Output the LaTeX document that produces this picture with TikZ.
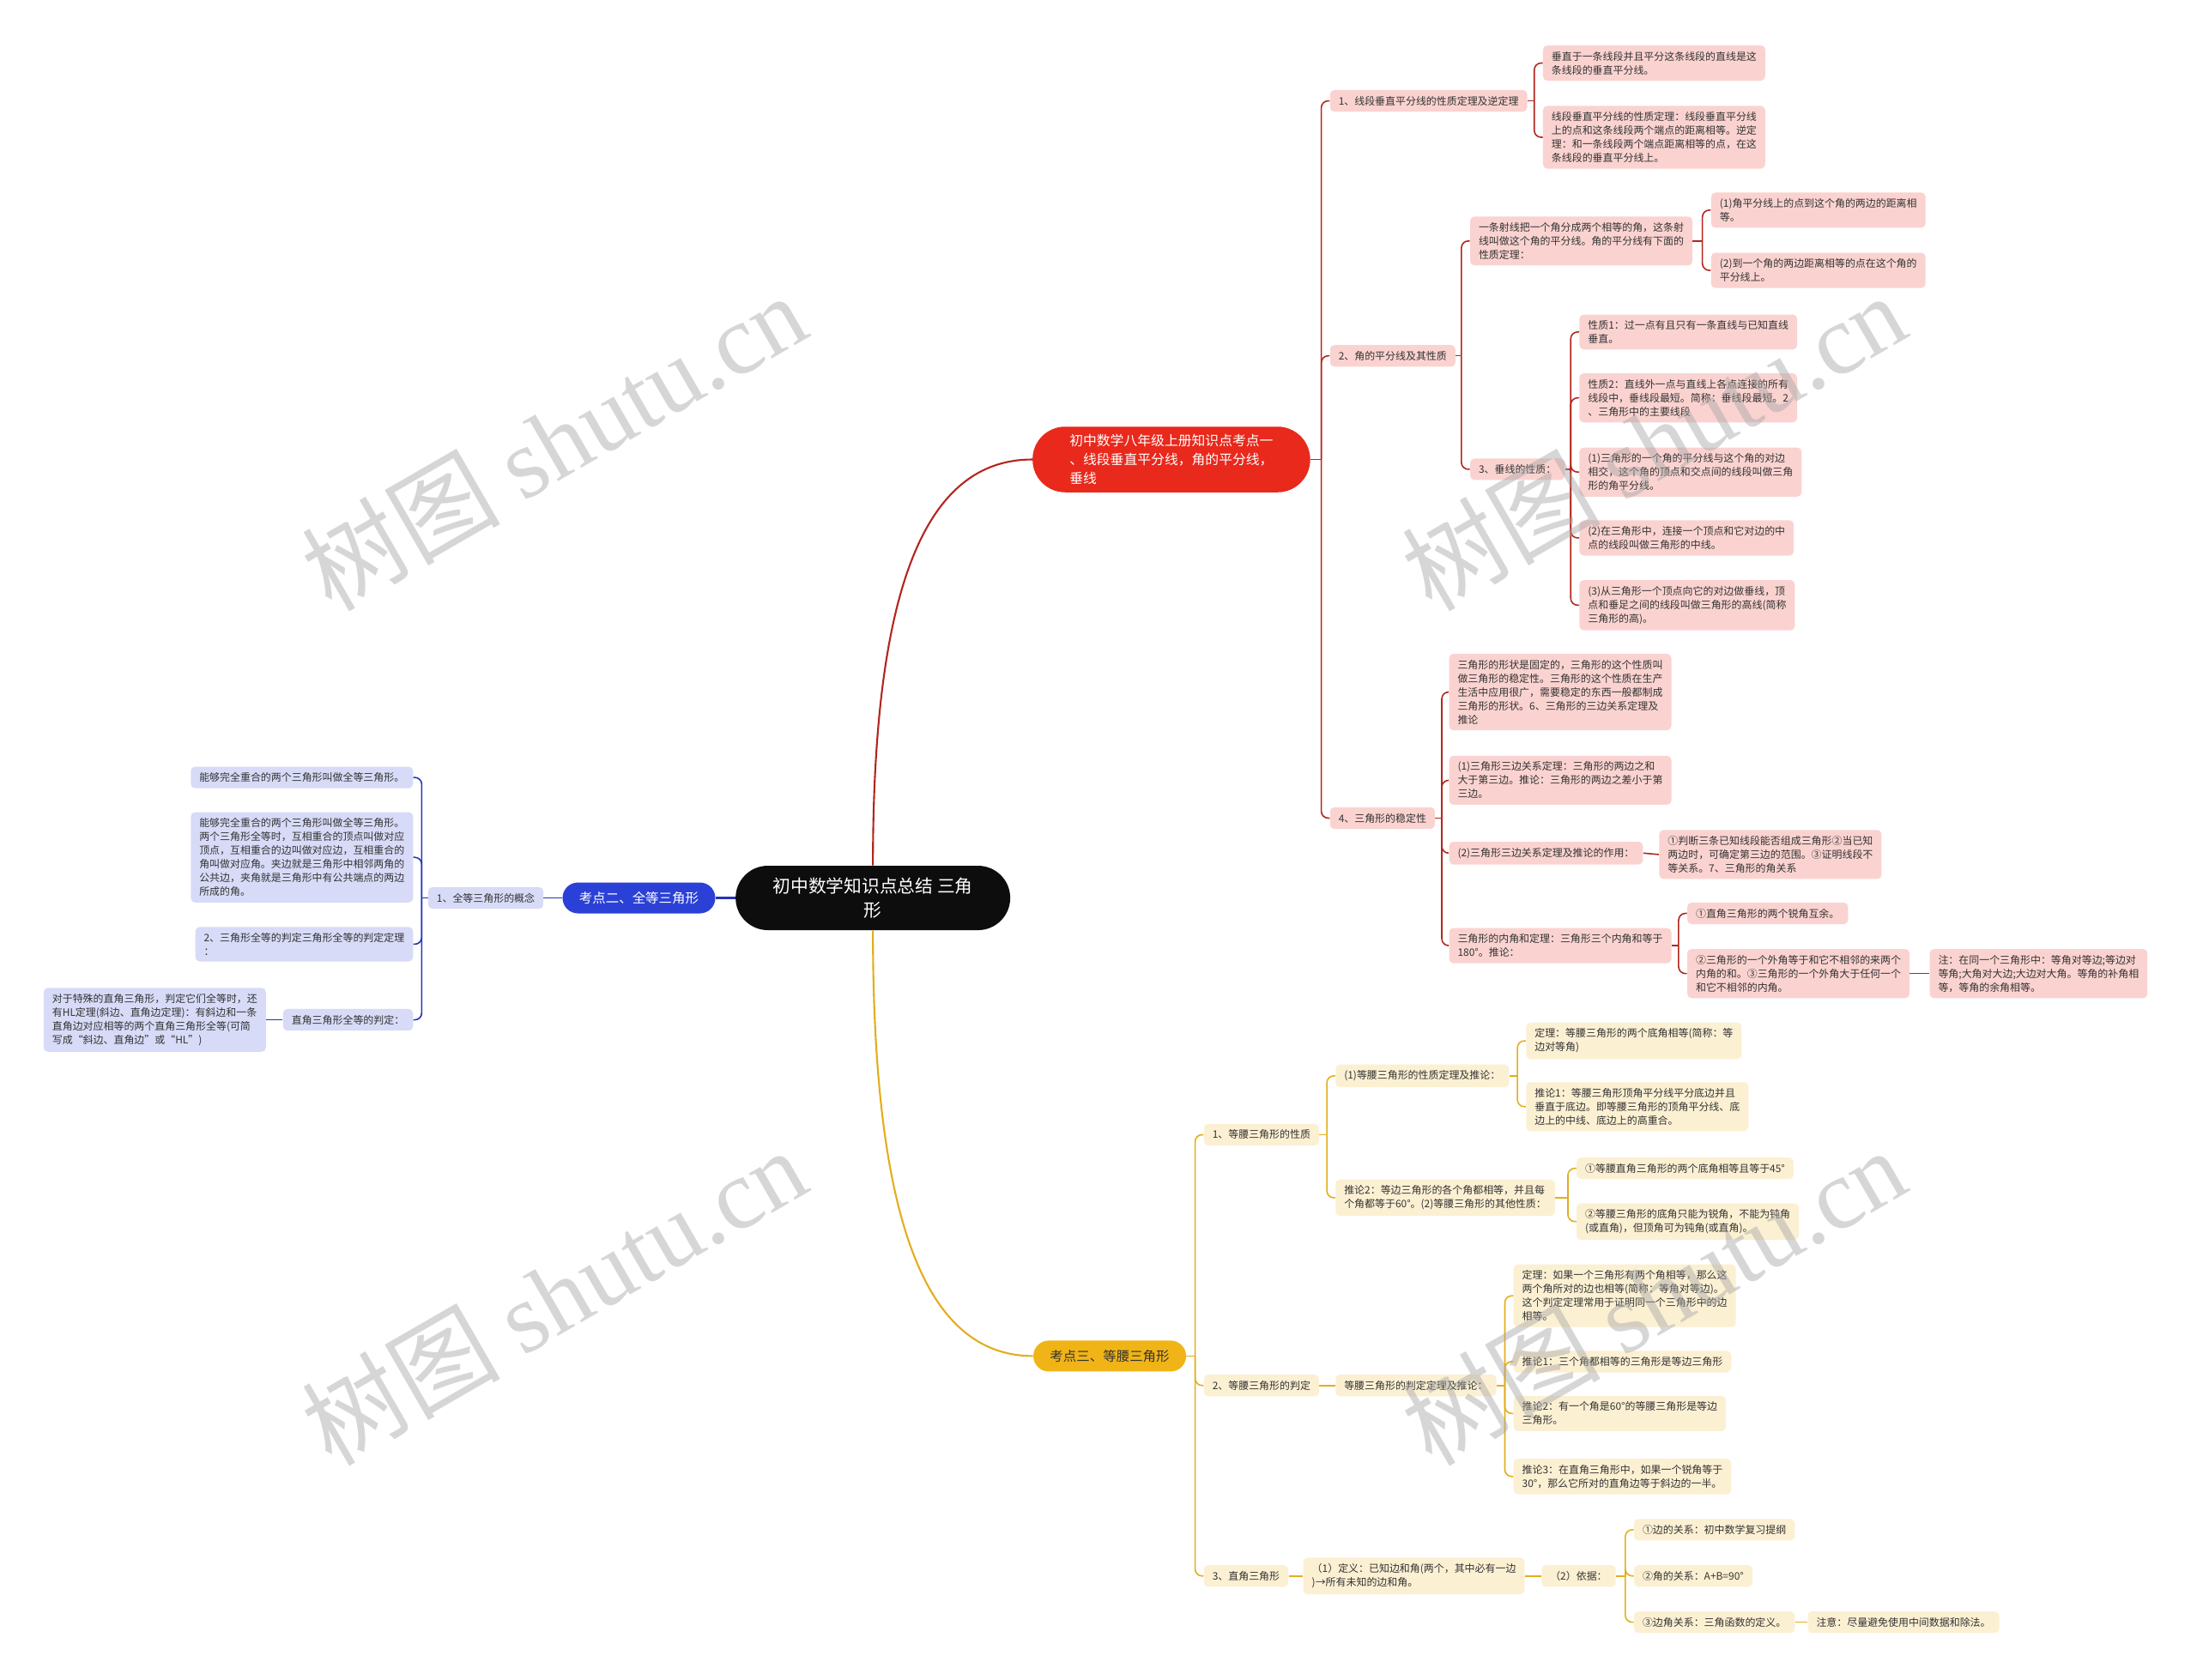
\documentclass[tikz,border=0pt]{standalone}
\usepackage{fontspec}
\setmainfont{Noto Sans CJK SC}
\newfontfamily\wmlatin{Liberation Serif}
\usepackage{xcolor}
\usetikzlibrary{positioning,calc}
\definecolor{rootblk}{HTML}{0D0D0D}
\definecolor{redmain}{HTML}{E8291C}
\definecolor{redline}{HTML}{B3261E}
\definecolor{redleaf}{HTML}{FAD3D0}
\definecolor{bluemain}{HTML}{2B40D6}
\definecolor{blueline}{HTML}{2634B5}
\definecolor{blueleaf}{HTML}{D7DBF7}
\definecolor{yelmain}{HTML}{F1B416}
\definecolor{yelline}{HTML}{E2AE1C}
\definecolor{yelleaf}{HTML}{FCF0D3}
\definecolor{leaftext}{HTML}{333333}
\newcommand{\leaffont}{\fontsize{6.8}{9.1}\selectfont}
\tikzset{
  leaf/.style={fill=#1, rounded corners=0.1cm, inner xsep=0.2cm, inner ysep=0.14cm,
    align=left, font=\leaffont, text=leaftext},
  leaf/.default=redleaf,
  topic/.style={fill=#1, rounded corners=0.36cm, minimum width=3.56cm, minimum height=0.72cm,
    font=\fontsize{8.8}{11}\selectfont},
  wire/.style={line width=0.9pt, rounded corners=0.16cm},
  trunk/.style={line width=1.2pt},
  wmark/.style={rotate=30, text=black!35, text opacity=0.45, font=\fontsize{66}{68}\selectfont},
}

\begin{document}
\begin{tikzpicture}[x=0.03266cm, y=-0.03266cm]
\useasboundingbox (0,0) rectangle (1568,1199);
\fill[white] (0,0) rectangle (1568,1199);

% ---- root and main topics ----
\node[fill=rootblk, text=white, rounded corners=0.75cm, minimum width=6.4cm, minimum height=1.5cm,
  align=center, font=\fontsize{11.8}{15.8}\selectfont] (root) at (623,641) {初中数学知识点总结 三角\\形};
\node[fill=redmain, text=white, rounded corners=0.76cm, minimum width=6.47cm, minimum height=1.53cm,
  align=left, font=\fontsize{9}{12.6}\selectfont] (rm) at (836,328)
  {初中数学八年级上册知识点考点一\\、线段垂直平分线，角的平分线，\\垂线};
\node[topic=bluemain, text=white] (bl) at (456,641) {考点二、全等三角形};
\node[topic=yelmain, text=leaftext] (yl) at (792,968) {考点三、等腰三角形};

\draw[trunk,redline] (root.north) .. controls (623,420) and (660,328) .. (rm.west);
\draw[trunk,yelline] (root.south) .. controls (623,870) and (660,968) .. (yl.west);
\draw[trunk,blueline] (root.west) -- (bl.east);

% ---- red branch ----
\node[leaf, anchor=west] (ra) at (949,72) {1、线段垂直平分线的性质定理及逆定理};
\node[leaf, anchor=west] (raa) at (1101,45) {垂直于一条线段并且平分这条线段的直线是这\\条线段的垂直平分线。};
\node[leaf, anchor=west] (rab) at (1101,98) {线段垂直平分线的性质定理：线段垂直平分线\\上的点和这条线段两个端点的距离相等。逆定\\理：和一条线段两个端点距离相等的点，在这\\条线段的垂直平分线上。};
\node[leaf, anchor=west] (rb) at (949,254) {2、角的平分线及其性质};
\node[leaf, anchor=west] (rba) at (1049,172) {一条射线把一个角分成两个相等的角，这条射\\线叫做这个角的平分线。角的平分线有下面的\\性质定理：};
\node[leaf, anchor=west] (rbaa) at (1221,150) {(1)角平分线上的点到这个角的两边的距离相\\等。};
\node[leaf, anchor=west] (rbab) at (1221,193) {(2)到一个角的两边距离相等的点在这个角的\\平分线上。};
\node[leaf, anchor=west] (rbb) at (1049,335) {3、垂线的性质：};
\node[leaf, anchor=west] (rbb1) at (1127,237) {性质1：过一点有且只有一条直线与已知直线\\垂直。};
\node[leaf, anchor=west] (rbb2) at (1127,284) {性质2：直线外一点与直线上各点连接的所有\\线段中，垂线段最短。简称：垂线段最短。2\\、三角形中的主要线段};
\node[leaf, anchor=west] (rbb3) at (1127,337) {(1)三角形的一个角的平分线与这个角的对边\\相交，这个角的顶点和交点间的线段叫做三角\\形的角平分线。};
\node[leaf, anchor=west] (rbb4) at (1127,384) {(2)在三角形中，连接一个顶点和它对边的中\\点的线段叫做三角形的中线。};
\node[leaf, anchor=west] (rbb5) at (1127,432) {(3)从三角形一个顶点向它的对边做垂线，顶\\点和垂足之间的线段叫做三角形的高线(简称\\三角形的高)。};
\node[leaf, anchor=west] (rc) at (949,584) {4、三角形的稳定性};
\node[leaf, anchor=west] (rc1) at (1034,494) {三角形的形状是固定的，三角形的这个性质叫\\做三角形的稳定性。三角形的这个性质在生产\\生活中应用很广，需要稳定的东西一般都制成\\三角形的形状。6、三角形的三边关系定理及\\推论};
\node[leaf, anchor=west] (rc2) at (1034,557) {(1)三角形三边关系定理：三角形的两边之和\\大于第三边。推论：三角形的两边之差小于第\\三边。};
\node[leaf, anchor=west] (rc3) at (1034,609) {(2)三角形三边关系定理及推论的作用：};
\node[leaf, anchor=west] (rc3a) at (1184,610) {①判断三条已知线段能否组成三角形②当已知\\两边时，可确定第三边的范围。③证明线段不\\等关系。7、三角形的角关系};
\node[leaf, anchor=west] (rc4) at (1034,675) {三角形的内角和定理：三角形三个内角和等于\\180°。推论：};
\node[leaf, anchor=west] (rc4a) at (1204,652) {①直角三角形的两个锐角互余。};
\node[leaf, anchor=west] (rc4b) at (1204,695) {②三角形的一个外角等于和它不相邻的来两个\\内角的和。③三角形的一个外角大于任何一个\\和它不相邻的内角。};
\node[leaf, anchor=west] (rc4bn) at (1377,695) {注：在同一个三角形中：等角对等边;等边对\\等角;大角对大边;大边对大角。等角的补角相\\等，等角的余角相等。};

\coordinate (rmj) at ($(ra.west |- rm.east)+(-6,0)$);
\draw[wire,redline] (rm.east) -- (rmj);
\draw[wire,redline] (rmj) |- (ra.west);
\draw[wire,redline] (rmj) |- (rb.west);
\draw[wire,redline] (rmj) |- (rc.west);
\coordinate (raj) at ($(raa.west |- ra.east)+(-6,0)$);
\draw[wire,redline] (ra.east) -- (raj);
\draw[wire,redline] (raj) |- (raa.west);
\draw[wire,redline] (raj) |- (rab.west);
\coordinate (rbj) at ($(rba.west |- rb.east)+(-6,0)$);
\draw[wire,redline] (rb.east) -- (rbj);
\draw[wire,redline] (rbj) |- (rba.west);
\draw[wire,redline] (rbj) |- (rbb.west);
\coordinate (rbaj) at ($(rbaa.west |- rba.east)+(-6,0)$);
\draw[wire,redline] (rba.east) -- (rbaj);
\draw[wire,redline] (rbaj) |- (rbaa.west);
\draw[wire,redline] (rbaj) |- (rbab.west);
\coordinate (rbbj) at ($(rbb1.west |- rbb.east)+(-6,0)$);
\draw[wire,redline] (rbb.east) -- (rbbj);
\draw[wire,redline] (rbbj) |- (rbb1.west);
\draw[wire,redline] (rbbj) |- (rbb2.west);
\draw[wire,redline] (rbbj) |- (rbb3.west);
\draw[wire,redline] (rbbj) |- (rbb4.west);
\draw[wire,redline] (rbbj) |- (rbb5.west);
\coordinate (rcj) at ($(rc1.west |- rc.east)+(-5,0)$);
\draw[wire,redline] (rc.east) -- (rcj);
\draw[wire,redline] (rcj) |- (rc1.west);
\draw[wire,redline] (rcj) |- (rc2.west);
\draw[wire,redline] (rcj) |- (rc3.west);
\draw[wire,redline] (rcj) |- (rc4.west);
\draw[wire,redline] (rc3.east) -- (rc3a.west);
\coordinate (rc4j) at ($(rc4a.west |- rc4.east)+(-6,0)$);
\draw[wire,redline] (rc4.east) -- (rc4j);
\draw[wire,redline] (rc4j) |- (rc4a.west);
\draw[wire,redline] (rc4j) |- (rc4b.west);
\draw[wire,redline] (rc4b.east) -- (rc4bn.west);

% ---- blue branch (grows to the left) ----
\node[leaf=blueleaf, anchor=east] (ba) at (388,641) {1、全等三角形的概念};
\node[leaf=blueleaf, anchor=east] (ba1) at (295,555) {能够完全重合的两个三角形叫做全等三角形。};
\node[leaf=blueleaf, anchor=east] (ba2) at (295,612) {能够完全重合的两个三角形叫做全等三角形。\\两个三角形全等时，互相重合的顶点叫做对应\\顶点，互相重合的边叫做对应边，互相重合的\\角叫做对应角。夹边就是三角形中相邻两角的\\公共边，夹角就是三角形中有公共端点的两边\\所成的角。};
\node[leaf=blueleaf, anchor=east] (ba3) at (295,674) {2、三角形全等的判定三角形全等的判定定理\\：};
\node[leaf=blueleaf, anchor=east] (ba4) at (295,728) {直角三角形全等的判定：};
\node[leaf=blueleaf, anchor=east] (ba4a) at (190,728) {对于特殊的直角三角形，判定它们全等时，还\\有HL定理(斜边、直角边定理)：有斜边和一条\\直角边对应相等的两个直角三角形全等(可简\\写成“斜边、直角边”或“HL”)};

\draw[wire,blueline] (bl.west) -- (ba.east);
\coordinate (baj) at ($(ba1.east |- ba.west)+(6,0)$);
\draw[wire,blueline] (ba.west) -- (baj);
\draw[wire,blueline] (baj) |- (ba1.east);
\draw[wire,blueline] (baj) |- (ba2.east);
\draw[wire,blueline] (baj) |- (ba3.east);
\draw[wire,blueline] (baj) |- (ba4.east);
\draw[wire,blueline] (ba4.west) -- (ba4a.east);

% ---- yellow branch ----
\node[leaf=yelleaf, anchor=west] (ya) at (859,810) {1、等腰三角形的性质};
\node[leaf=yelleaf, anchor=west] (ya1) at (953,768) {(1)等腰三角形的性质定理及推论：};
\node[leaf=yelleaf, anchor=west] (ya1a) at (1089,743) {定理：等腰三角形的两个底角相等(简称：等\\边对等角)};
\node[leaf=yelleaf, anchor=west] (ya1b) at (1089,790) {推论1：等腰三角形顶角平分线平分底边并且\\垂直于底边。即等腰三角形的顶角平分线、底\\边上的中线、底边上的高重合。};
\node[leaf=yelleaf, anchor=west] (ya2) at (953,855) {推论2：等边三角形的各个角都相等，并且每\\个角都等于60°。(2)等腰三角形的其他性质：};
\node[leaf=yelleaf, anchor=west] (ya2a) at (1125,834) {①等腰直角三角形的两个底角相等且等于45°};
\node[leaf=yelleaf, anchor=west] (ya2b) at (1125,872) {②等腰三角形的底角只能为锐角，不能为钝角\\(或直角)，但顶角可为钝角(或直角)。};
\node[leaf=yelleaf, anchor=west] (yb) at (859,989) {2、等腰三角形的判定};
\node[leaf=yelleaf, anchor=west] (yb1) at (953,989) {等腰三角形的判定定理及推论：};
\node[leaf=yelleaf, anchor=west] (yb1a) at (1080,925) {定理：如果一个三角形有两个角相等，那么这\\两个角所对的边也相等(简称：等角对等边)。\\这个判定定理常用于证明同一个三角形中的边\\相等。};
\node[leaf=yelleaf, anchor=west] (yb1b) at (1080,972) {推论1：三个角都相等的三角形是等边三角形};
\node[leaf=yelleaf, anchor=west] (yb1c) at (1080,1009) {推论2：有一个角是60°的等腰三角形是等边\\三角形。};
\node[leaf=yelleaf, anchor=west] (yb1d) at (1080,1054) {推论3：在直角三角形中，如果一个锐角等于\\30°，那么它所对的直角边等于斜边的一半。};
\node[leaf=yelleaf, anchor=west] (yc) at (859,1125) {3、直角三角形};
\node[leaf=yelleaf, anchor=west] (yc1) at (930,1125) {（1）定义：已知边和角(两个，其中必有一边\\)→所有未知的边和角。};
\node[leaf=yelleaf, anchor=west] (yc2) at (1100,1125) {（2）依据：};
\node[leaf=yelleaf, anchor=west] (yc2a) at (1166,1092) {①边的关系：初中数学复习提纲};
\node[leaf=yelleaf, anchor=west] (yc2b) at (1166,1125) {②角的关系：A+B=90°};
\node[leaf=yelleaf, anchor=west] (yc2c) at (1166,1158) {③边角关系：三角函数的定义。};
\node[leaf=yelleaf, anchor=west] (yc2cn) at (1290,1158) {注意：尽量避免使用中间数据和除法。};

\coordinate (ylj) at ($(ya.west |- yl.east)+(-6,0)$);
\draw[wire,yelline] (yl.east) -- (ylj);
\draw[wire,yelline] (ylj) |- (ya.west);
\draw[wire,yelline] (ylj) |- (yb.west);
\draw[wire,yelline] (ylj) |- (yc.west);
\coordinate (yaj) at ($(ya1.west |- ya.east)+(-6,0)$);
\draw[wire,yelline] (ya.east) -- (yaj);
\draw[wire,yelline] (yaj) |- (ya1.west);
\draw[wire,yelline] (yaj) |- (ya2.west);
\coordinate (ya1j) at ($(ya1a.west |- ya1.east)+(-6,0)$);
\draw[wire,yelline] (ya1.east) -- (ya1j);
\draw[wire,yelline] (ya1j) |- (ya1a.west);
\draw[wire,yelline] (ya1j) |- (ya1b.west);
\coordinate (ya2j) at ($(ya2a.west |- ya2.east)+(-6,0)$);
\draw[wire,yelline] (ya2.east) -- (ya2j);
\draw[wire,yelline] (ya2j) |- (ya2a.west);
\draw[wire,yelline] (ya2j) |- (ya2b.west);
\draw[wire,yelline] (yb.east) -- (yb1.west);
\coordinate (yb1j) at ($(yb1a.west |- yb1.east)+(-6,0)$);
\draw[wire,yelline] (yb1.east) -- (yb1j);
\draw[wire,yelline] (yb1j) |- (yb1a.west);
\draw[wire,yelline] (yb1j) |- (yb1b.west);
\draw[wire,yelline] (yb1j) |- (yb1c.west);
\draw[wire,yelline] (yb1j) |- (yb1d.west);
\draw[wire,yelline] (yc.east) -- (yc1.west);
\draw[wire,yelline] (yc1.east) -- (yc2.west);
\coordinate (yc2j) at ($(yc2a.west |- yc2.east)+(-6,0)$);
\draw[wire,yelline] (yc2.east) -- (yc2j);
\draw[wire,yelline] (yc2j) |- (yc2a.west);
\draw[wire,yelline] (yc2j) |- (yc2b.west);
\draw[wire,yelline] (yc2j) |- (yc2c.west);
\draw[wire,yelline] (yc2c.east) -- (yc2cn.west);

% ---- watermarks ----
\node[wmark] (wm1) at (395,315) {树图 {\wmlatin shutu.cn}};
\node[wmark] (wm2) at (1180,315) {树图 {\wmlatin shutu.cn}};
\node[wmark] (wm3) at (395,925) {树图 {\wmlatin shutu.cn}};
\node[wmark] (wm4) at (1180,925) {树图 {\wmlatin shutu.cn}};

\end{tikzpicture}
\end{document}
